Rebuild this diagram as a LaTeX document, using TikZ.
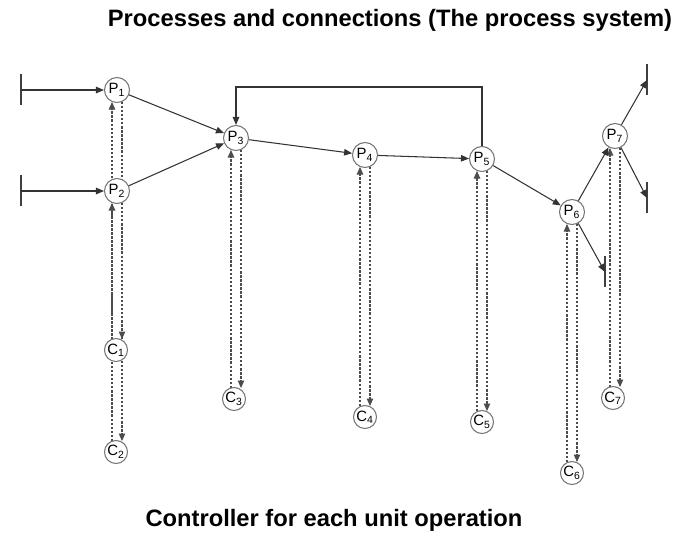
\documentclass[tikz,border=0pt]{standalone}
\usepackage{fontspec}
\setmainfont{Liberation Sans}
\usetikzlibrary{calc,arrows.meta,backgrounds}
\tikzset{
  proc/.style={circle,draw=black!55,fill=white,line width=.6pt,inner sep=0pt,minimum size=0.5cm,font=\fontsize{8.5}{9}\selectfont},
  ctrl/.style={proc,minimum size=0.46cm},
  flow/.style={-{Triangle[length=1.6mm,width=1.3mm]},line width=.6pt,black!80},
  sig/.style={-{Triangle[length=1.5mm,width=1.3mm]},line width=.6pt,black!70,dash pattern=on 1.3pt off 1pt},
  edge/.style={line width=.9pt,black!75},
  ttl/.style={font=\bfseries\fontsize{13.5}{15}\selectfont},
}
\begin{document}
\begin{tikzpicture}[x=0.02cm,y=-0.02cm]
  \useasboundingbox (0,0) rectangle (673,538);
  % titles
  \node[ttl] (top) at (390,20) {Processes and connections (The process system)};
  \node[ttl] (bot) at (334,520) {Controller for each unit operation};
  % unit operations
  \node[proc] (P1) at (117,90) {P\textsubscript{1}};
  \node[proc] (P2) at (117,191) {P\textsubscript{2}};
  \node[proc] (P3) at (236,138) {P\textsubscript{3}};
  \node[proc] (P4) at (365,155) {P\textsubscript{4}};
  \node[proc] (P5) at (482,159) {P\textsubscript{5}};
  \node[proc] (P6) at (572,212) {P\textsubscript{6}};
  \node[proc] (P7) at (615,136) {P\textsubscript{7}};
  % controllers
  \node[ctrl] (C1) at (116,350) {C\textsubscript{1}};
  \node[ctrl] (C2) at (116,452) {C\textsubscript{2}};
  \node[ctrl] (C3) at (234,399) {C\textsubscript{3}};
  \node[ctrl] (C4) at (365,417) {C\textsubscript{4}};
  \node[ctrl] (C5) at (482,422) {C\textsubscript{5}};
  \node[ctrl] (C6) at (572,473) {C\textsubscript{6}};
  \node[ctrl] (C7) at (613,398) {C\textsubscript{7}};
  % feeds and products
  \coordinate (in1) at (21,90);
  \coordinate (in2) at (21,191);
  \coordinate (out1) at (647,80);
  \coordinate (out2) at (647,198);
  \coordinate (out3) at (605,272);
  \foreach \b in {in1,in2,out1,out2,out3}
    \draw[edge] ($(\b)+(0,-16)$) -- ($(\b)+(0,15)$);
  \draw[flow] (in1) -- (P1);
  \draw[flow] (in2) -- (P2);
  \draw[flow] (P1) -- (P3);
  \draw[flow] (P2) -- (P3);
  \draw[flow] (P3) -- (P4);
  \draw[flow] (P4) -- (P5);
  \draw[flow] (P5) -- (P6);
  \draw[flow] (P6) -- (P7);
  \draw[flow] (P7) -- (out1);
  \draw[flow] (P7) -- (out2);
  \draw[flow] (P6) -- (out3);
  \coordinate (fb) at (0,87);
  \draw[flow] (P5.north) |- (fb -| P3) -- (P3.north);
  % measurement and control signals
  \begin{scope}[on background layer]
    \foreach \p/\c in {P1/C2,P2/C1,P3/C3,P4/C4,P5/C5,P6/C6,P7/C7} {
      \draw[sig] ($(\p |- \c)+(-5,-11)$) -- ($(\p)+(-5,12)$);
      \draw[sig] ($(\p)+(5,12)$) -- ($(\p |- \c)+(5,-11)$);
    }
  \end{scope}
\end{tikzpicture}
\end{document}
